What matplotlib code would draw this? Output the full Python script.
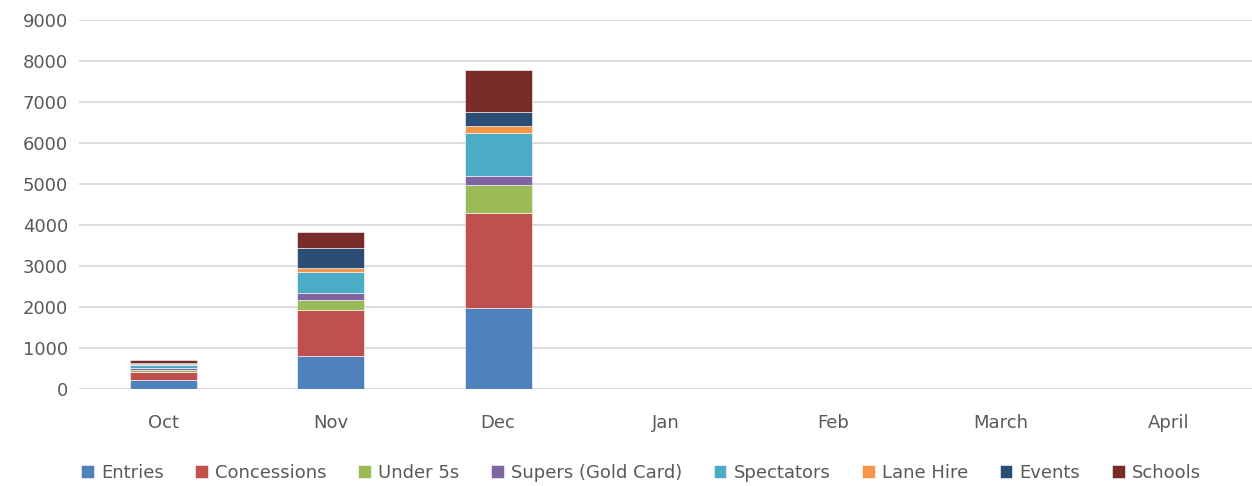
import numpy as np
import matplotlib.pyplot as plt

months = ['Oct', 'Nov', 'Dec', 'Jan', 'Feb', 'March', 'April']
entries = [230, 805, 1970, 0, 0, 0, 0]
concessions = [190, 1115, 2325, 0, 0, 0, 0]
under5s = [50, 243, 690, 0, 0, 0, 0]
supers = [30, 171, 205, 0, 0, 0, 0]
spectators = [80, 512, 1050, 0, 0, 0, 0]
lane_hire = [20, 113, 170, 0, 0, 0, 0]
events = [25, 487, 355, 0, 0, 0, 0]
schools = [75, 383, 1017, 0, 0, 0, 0]

series = [
    ('Entries', entries, '#4F81BD'),
    ('Concessions', concessions, '#C0504D'),
    ('Under 5s', under5s, '#9BBB59'),
    ('Supers (Gold Card)', supers, '#8064A2'),
    ('Spectators', spectators, '#4BACC6'),
    ('Lane Hire', lane_hire, '#F79646'),
    ('Events', events, '#2C4D75'),
    ('Schools', schools, '#772C2A'),
]

fig = plt.figure(figsize=(12.52, 4.86), dpi=100)
ax = fig.add_axes([0.0633, 0.1996, 0.9367, 0.7593])

x = np.arange(len(months))
bottom = np.zeros(len(months))
for name, vals, col in series:
    vals = np.array(vals, dtype=float)
    ax.bar(x, vals, 0.4, bottom=bottom, color=col, label=name,
           edgecolor='white', linewidth=0.4)
    bottom += vals

ax.set_xlim(-0.5, len(months) - 0.5)
ax.set_ylim(0, 9000)
ax.set_yticks(range(0, 9001, 1000))
ax.set_xticks(x)
ax.set_xticklabels(months)
ax.yaxis.grid(True, color='#D9D9D9', linewidth=1.3)
ax.set_axisbelow(True)
for s in ax.spines.values():
    s.set_visible(False)
ax.tick_params(length=0, labelsize=13, colors='#595959', pad=8)
ax.tick_params(axis='x', pad=18)

fig.legend(loc='lower center', ncol=8, bbox_to_anchor=(0.512, -0.025),
           frameon=False, fontsize=13, handlelength=0.7, handleheight=0.7,
           handletextpad=0.4, columnspacing=1.75, labelcolor='#595959')

fig.savefig('out.png', dpi=100)
